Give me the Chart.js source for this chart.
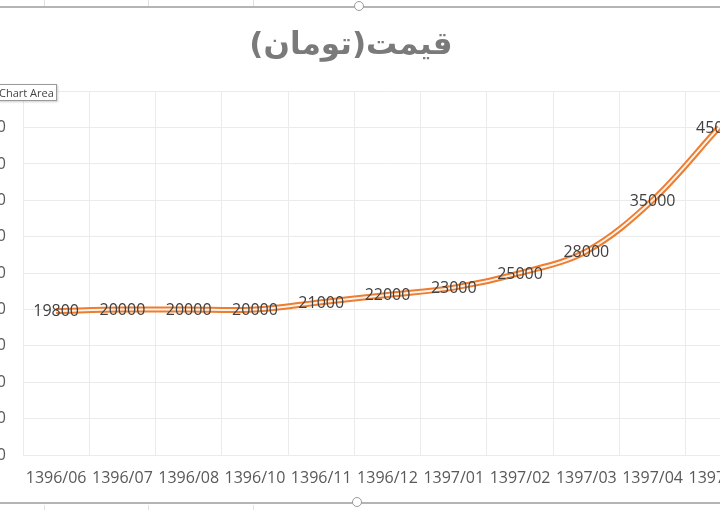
<!DOCTYPE html>
<html>
<head>
<meta charset="utf-8">
<script src="https://cdn.jsdelivr.net/npm/chart.js@4.4.1/dist/chart.umd.min.js"></script>
<style>
  html, body { margin: 0; padding: 0; background: #fff; overflow: hidden; }
  body { width: 720px; height: 510px; position: relative; }
  #chart { position: absolute; left: -50px; top: 0; }
  .frame { position: absolute; left: 0; width: 720px; height: 2px; background: #b4b4b4; }
  .cell { position: absolute; width: 1px; height: 6px; background: #e2e2e2; }
  .handle { position: absolute; width: 8px; height: 8px; border: 1.5px solid #9a9a9a; border-radius: 50%; background: #fff; }
  #tip { position: absolute; left: -5px; top: 84px; height: 15px; line-height: 15px; padding: 0 2px 0 3px; border: 1px solid #9a9a9a;
         background: #fff; font: 11px "Open Sans", sans-serif; color: #444; box-shadow: 1px 1px 2px rgba(0,0,0,0.2); }
</style>
</head>
<body>
<canvas id="chart" width="822" height="510"></canvas>
<div class="cell" style="left:44px;top:0"></div>
<div class="cell" style="left:148px;top:0"></div>
<div class="cell" style="left:253px;top:0"></div>
<div class="cell" style="left:44px;top:505px"></div>
<div class="cell" style="left:148px;top:505px"></div>
<div class="cell" style="left:253px;top:505px"></div>
<div class="frame" style="top:6px"></div>
<div class="frame" style="top:502px"></div>
<div class="handle" style="left:354px;top:1px"></div>
<div class="handle" style="left:352px;top:497px"></div>
<div id="tip">Chart Area</div>
<script>
// Data
const months = [
  "1396/06", "1396/07", "1396/08", "1396/10", "1396/11", "1396/12",
  "1397/01", "1397/02", "1397/03", "1397/04", "1397/05",
];
const prices = [
  19800, 20000, 20000, 20000, 21000, 22000, 23000, 25000, 28000, 35000, 45000,
];
const yTicks = [0, 5000, 10000, 15000, 20000, 25000, 30000, 35000, 40000, 45000, 50000];

const gridColor = "#ebebeb";
const textColor = "#595959";

// Draw the value labels centred on each point (Excel "center" data labels)
const pointLabels = {
  id: "pointLabels",
  afterDatasetsDraw(chart) {
    const ctx = chart.ctx;
    const meta = chart.getDatasetMeta(0);
    ctx.save();
    ctx.font = "16px 'Open Sans', sans-serif";
    ctx.fillStyle = "#404040";
    ctx.textAlign = "center";
    ctx.textBaseline = "middle";
    meta.data.forEach((pt, i) => {
      ctx.fillText(String(prices[i]), pt.x, pt.y + 1);
    });
    ctx.restore();
  },
};

const ctx = document.getElementById("chart").getContext("2d");

new Chart(ctx, {
  type: "line",
  data: {
    labels: months,
    datasets: [
      {
        // orange outer stroke
        data: prices,
        borderColor: "#ED7D31",
        borderWidth: 6,
        tension: 0.35,
        pointRadius: 0,
        fill: false,
        order: 2,
      },
      {
        // white inner stroke, gives the double line look
        data: prices,
        borderColor: "#fdf3ec",
        borderWidth: 2,
        tension: 0.35,
        pointRadius: 0,
        fill: false,
        order: 1,
      },
    ],
  },
  options: {
    responsive: false,
    animation: false,
    layout: {
      padding: { left: 0, right: 20, top: 0, bottom: 0 },
    },
    scales: {
      x: {
        offset: true,
        grid: { offset: true, color: gridColor, drawTicks: false },
        border: { color: gridColor },
        ticks: {
          color: textColor,
          padding: 14,
          maxRotation: 0,
          autoSkip: false,
          font: { family: "'Open Sans', sans-serif", size: 16 },
        },
        afterFit(scale) {
          scale.height = 55;
        },
      },
      y: {
        min: 0,
        max: 50000,
        afterBuildTicks(scale) {
          scale.ticks = yTicks.map((v) => ({ value: v }));
        },
        grid: { color: gridColor, drawTicks: false },
        border: { display: false },
        ticks: {
          color: textColor,
          padding: 17,
          font: { family: "'Open Sans', sans-serif", size: 16 },
        },
        afterFit(scale) {
          scale.width = 73;
        },
      },
    },
    plugins: {
      legend: { display: false },
      tooltip: { enabled: false },
      title: {
        display: true,
        text: "قيمت(تومان)",
        color: "#7a7a7a",
        font: { family: "'DejaVu Sans', sans-serif", size: 31, weight: "bold" },
        padding: { top: 27, bottom: 27 },
      },
    },
  },
  plugins: [pointLabels],
});
</script>
</body>
</html>
